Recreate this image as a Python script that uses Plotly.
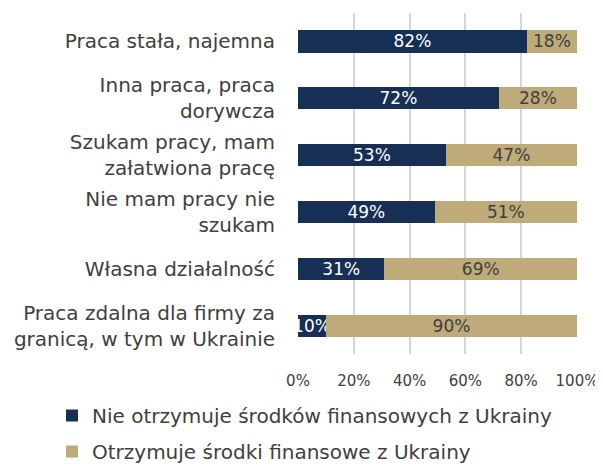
import plotly.graph_objects as go

categories = [
    "Praca stała, najemna",
    "Inna praca, praca<br>dorywcza",
    "Szukam pracy, mam<br>załatwiona pracę",
    "Nie mam pracy nie<br>szukam",
    "Własna działalność",
    "Praca zdalna dla firmy za<br>granicą, w tym w Ukrainie",
]
series_names = [
    "Nie otrzymuje środków finansowych z Ukrainy",
    "Otrzymuje środki finansowe z Ukrainy",
]
not_receiving = [82, 72, 53, 49, 31, 10]
receiving = [18, 28, 47, 51, 69, 90]
tick_vals = [0, 20, 40, 60, 80, 100]
tick_text = ["0%", "20%", "40%", "60%", "80%", "100%"]

NAVY = "#172E55"
TAN = "#BEAB79"
GREY = "#404040"
FONT = "DejaVu Sans"
W, H = 595, 458

fig = go.Figure()
fig.add_trace(go.Bar(
    y=categories, x=not_receiving, name=series_names[0], orientation="h",
    marker=dict(color=NAVY, line=dict(width=0)),
    text=[f"{v}%" for v in not_receiving], textposition="inside",
    insidetextanchor="middle", constraintext="none", textangle=0,
    textfont=dict(color="white", size=17, family=FONT),
    legendgroup="a",
))
fig.add_trace(go.Bar(
    y=categories, x=receiving, name=series_names[1], orientation="h",
    marker=dict(color=TAN, line=dict(width=0)),
    text=[f"{v}%" for v in receiving], textposition="inside",
    insidetextanchor="middle", constraintext="none", textangle=0,
    textfont=dict(color=GREY, size=17, family=FONT),
    legendgroup="b",
))

fig.update_layout(
    barmode="stack",
    bargap=0.61,
    width=W, height=H,
    margin=dict(l=290, r=26, t=5, b=112, autoexpand=False),
    paper_bgcolor="white", plot_bgcolor="white",
    font=dict(family=FONT, color=GREY, size=16),
    showlegend=True,
    legend=dict(
        orientation="v", xref="container", x=44 / W, xanchor="left",
        yref="container", y=1 - 388 / H, yanchor="top",
        font=dict(size=20, color=GREY, family=FONT),
        tracegroupgap=7, traceorder="grouped",
        itemwidth=30,
    ),
)
fig.update_xaxes(
    range=[0, 100], tickvals=tick_vals, ticktext=tick_text,
    showgrid=True, gridcolor="#D6D6D6", gridwidth=2,
    zeroline=False, showline=False, automargin=False,
    tickfont=dict(size=15, color=GREY, family=FONT),
    ticks="", ticklabelstandoff=16,
)
fig.update_yaxes(
    autorange="reversed", showgrid=False, showline=False, ticks="",
    automargin=False,
    tickfont=dict(size=20, color=GREY, family=FONT),
    ticklabelstandoff=22,
)

fig.write_html("out.html")
